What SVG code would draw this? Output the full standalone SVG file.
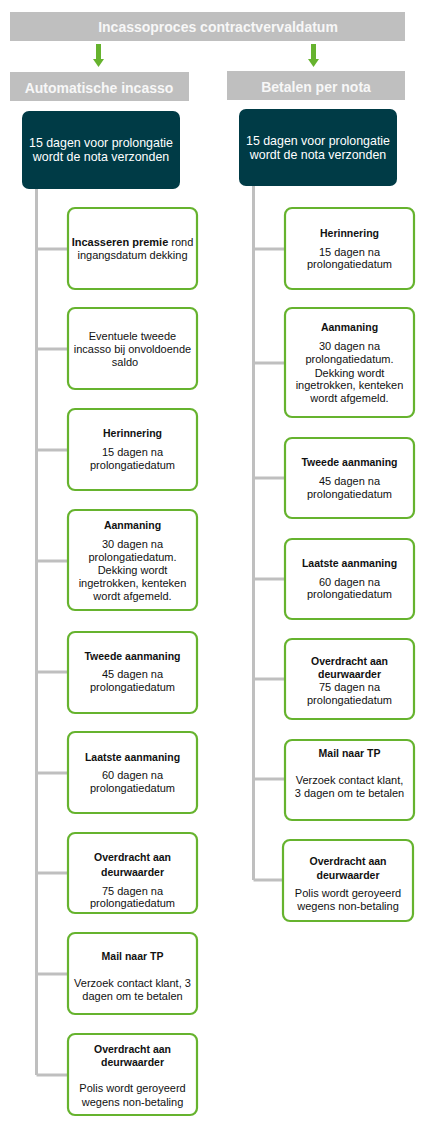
<svg xmlns="http://www.w3.org/2000/svg" width="430" height="1132" viewBox="0 0 430 1132">
<style>
.bar{fill:#bfbfbf}
.bart{font-family:"Liberation Sans",Arial,sans-serif;font-weight:bold;fill:#f7f7f7;text-anchor:middle}
.dark{fill:#003b46}
.dt{font-family:"Liberation Sans",Arial,sans-serif;font-size:12.4px;fill:#ffffff;text-anchor:middle}
.box{fill:#ffffff;stroke:#66b32e;stroke-width:2.2}
.t{font-family:"Liberation Sans",Arial,sans-serif;font-size:11px;fill:#111111;text-anchor:middle}
.b{font-weight:bold;font-size:10.5px}
.conn{stroke:#bfbfbf;stroke-width:3;fill:none}
.arrow{fill:#66b32e}
</style>
<rect width="430" height="1132" fill="#ffffff"/>
<g id="title">
<rect class="bar" x="10" y="12" width="395" height="29"/>
<text class="bart" x="218" y="32" font-size="14">Incassoproces contractvervaldatum</text>
</g>
<g id="arrows">
<polygon class="arrow" points="96,44 101,44 101,59 104,59 98.5,67 93,59 96,59"/>
<polygon class="arrow" points="311,44 316,44 316,59 319,59 313.5,67 308,59 311,59"/>
</g>
<g id="hdr-left">
<rect class="bar" x="10" y="72" width="179" height="29"/>
<text class="bart" x="99" y="93" font-size="14">Automatische incasso</text>
</g>
<g id="hdr-right">
<rect class="bar" x="227" y="71" width="178" height="29"/>
<text class="bart" x="316" y="92" font-size="14">Betalen per nota</text>
</g>
<g id="connectors">
<path class="conn" d="M36.5,189 V1075 M36.5,249 H68 M36.5,349 H68 M36.5,450 H68 M36.5,561 H68 M36.5,672 H68 M36.5,773 H68 M36.5,873 H68 M36.5,974 H68 M36.5,1075 H68"/>
<path class="conn" d="M253.5,186 V880 M253.5,249 H285 M253.5,363 H285 M253.5,478 H285 M253.5,579 H285 M253.5,679 H285 M253.5,779 H285 M253.5,880 H283"/>
</g>
<g id="start-left">
<rect class="dark" x="22" y="111" width="158" height="78" rx="7"/>
<text class="dt" x="101" y="147">15 dagen voor prolongatie</text>
<text class="dt" x="101" y="161">wordt de nota verzonden</text>
</g>
<g id="start-right">
<rect class="dark" x="239" y="109" width="158" height="77" rx="7"/>
<text class="dt" x="318" y="145">15 dagen voor prolongatie</text>
<text class="dt" x="318" y="159">wordt de nota verzonden</text>
</g>
<g id="L1">
<rect class="box" x="68" y="208" width="129" height="81" rx="7"/>
<text class="t" x="132.5" y="246"><tspan font-weight="bold">Incasseren premie</tspan> rond</text>
<text class="t" x="132.5" y="259">ingangsdatum dekking</text>
</g>
<g id="L2">
<rect class="box" x="68" y="308" width="129" height="81" rx="7"/>
<text class="t" x="132.5" y="340">Eventuele tweede</text>
<text class="t" x="132.5" y="353">incasso bij onvoldoende</text>
<text class="t" x="125" y="366">saldo</text>
</g>
<g id="L3">
<rect class="box" x="68" y="409" width="129" height="81" rx="7"/>
<text class="t b" x="132.5" y="437">Herinnering</text>
<text class="t" x="132.5" y="456">15 dagen na</text>
<text class="t" x="132.5" y="469">prolongatiedatum</text>
</g>
<g id="L4">
<rect class="box" x="68" y="510" width="129" height="100" rx="7"/>
<text class="t b" x="132.5" y="529">Aanmaning</text>
<text class="t" x="132.5" y="548">30 dagen na</text>
<text class="t" x="132.5" y="561">prolongatiedatum.</text>
<text class="t" x="132.5" y="574">Dekking wordt</text>
<text class="t" x="132.5" y="587">ingetrokken, kenteken</text>
<text class="t" x="132.5" y="600">wordt afgemeld.</text>
</g>
<g id="L5">
<rect class="box" x="68" y="632" width="129" height="81" rx="7"/>
<text class="t b" x="132.5" y="660">Tweede aanmaning</text>
<text class="t" x="132.5" y="678">45 dagen na</text>
<text class="t" x="132.5" y="691">prolongatiedatum</text>
</g>
<g id="L6">
<rect class="box" x="68" y="732" width="129" height="81" rx="7"/>
<text class="t b" x="132.5" y="761">Laatste aanmaning</text>
<text class="t" x="132.5" y="779">60 dagen na</text>
<text class="t" x="132.5" y="792">prolongatiedatum</text>
</g>
<g id="L7">
<rect class="box" x="68" y="833" width="129" height="80" rx="7"/>
<text class="t b" x="132.5" y="861">Overdracht aan</text>
<text class="t b" x="132.5" y="876">deurwaarder</text>
<text class="t" x="132.5" y="895">75 dagen na</text>
<text class="t" x="132.5" y="907">prolongatiedatum</text>
</g>
<g id="L8">
<rect class="box" x="68" y="933" width="129" height="81" rx="7"/>
<text class="t b" x="132.5" y="960">Mail naar TP</text>
<text class="t" x="132.5" y="987">Verzoek contact klant, 3</text>
<text class="t" x="132.5" y="1000">dagen om te betalen</text>
</g>
<g id="L9">
<rect class="box" x="68" y="1034" width="129" height="81" rx="7"/>
<text class="t b" x="132.5" y="1053">Overdracht aan</text>
<text class="t b" x="132.5" y="1066">deurwaarder</text>
<text class="t" x="132.5" y="1092">Polis wordt geroyeerd</text>
<text class="t" x="132.5" y="1106">wegens non-betaling</text>
</g>
<g id="R1">
<rect class="box" x="285" y="208" width="129" height="81" rx="7"/>
<text class="t b" x="349.5" y="237">Herinnering</text>
<text class="t" x="349.5" y="256">15 dagen na</text>
<text class="t" x="349.5" y="268">prolongatiedatum</text>
</g>
<g id="R2">
<rect class="box" x="285" y="308" width="129" height="109" rx="7"/>
<text class="t b" x="349.5" y="331">Aanmaning</text>
<text class="t" x="349.5" y="350">30 dagen na</text>
<text class="t" x="349.5" y="363">prolongatiedatum.</text>
<text class="t" x="349.5" y="377">Dekking wordt</text>
<text class="t" x="349.5" y="389">ingetrokken, kenteken</text>
<text class="t" x="349.5" y="402">wordt afgemeld.</text>
</g>
<g id="R3">
<rect class="box" x="285" y="438" width="129" height="80" rx="7"/>
<text class="t b" x="349.5" y="466">Tweede aanmaning</text>
<text class="t" x="349.5" y="485">45 dagen na</text>
<text class="t" x="349.5" y="498">prolongatiedatum</text>
</g>
<g id="R4">
<rect class="box" x="285" y="539" width="129" height="80" rx="7"/>
<text class="t b" x="349.5" y="567">Laatste aanmaning</text>
<text class="t" x="349.5" y="586">60 dagen na</text>
<text class="t" x="349.5" y="598">prolongatiedatum</text>
</g>
<g id="R5">
<rect class="box" x="285" y="639" width="129" height="80" rx="7"/>
<text class="t b" x="349.5" y="665">Overdracht aan</text>
<text class="t b" x="349.5" y="678">deurwaarder</text>
<text class="t" x="349.5" y="691">75 dagen na</text>
<text class="t" x="349.5" y="704">prolongatiedatum</text>
</g>
<g id="R6">
<rect class="box" x="285" y="740" width="129" height="80" rx="7"/>
<text class="t b" x="349.5" y="757">Mail naar TP</text>
<text class="t" x="349.5" y="784">Verzoek contact klant,</text>
<text class="t" x="349.5" y="797">3 dagen om te betalen</text>
</g>
<g id="R7">
<rect class="box" x="283" y="840" width="130" height="81" rx="7"/>
<text class="t b" x="348" y="865">Overdracht aan</text>
<text class="t b" x="348" y="879">deurwaarder</text>
<text class="t" x="348" y="897">Polis wordt geroyeerd</text>
<text class="t" x="348" y="910">wegens non-betaling</text>
</g>
</svg>
